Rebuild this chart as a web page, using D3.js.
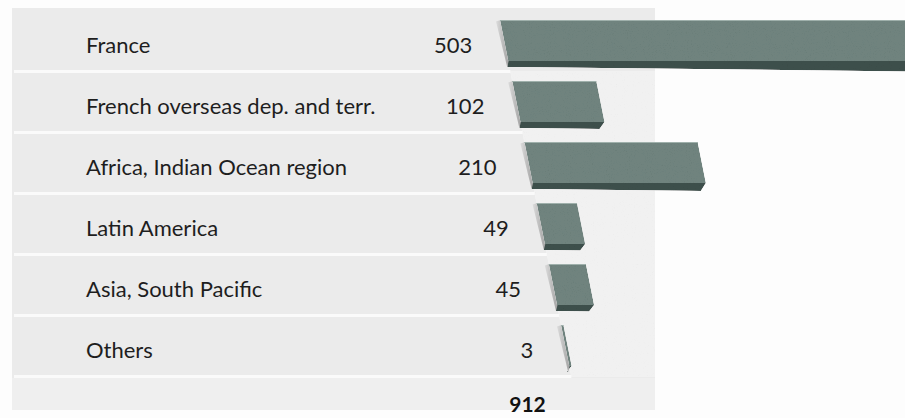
<!DOCTYPE html>
<html>
<head>
<meta charset="utf-8">
<script src="https://cdn.jsdelivr.net/npm/d3@7"></script>
<style>
  html, body { margin: 0; padding: 0; background: #fdfdfd; }
  svg { display: block; }
  text { font-family: Lato, "Open Sans", sans-serif; }
</style>
</head>
<body>
<svg id="chart" width="905" height="418"></svg>
<script>
// Regions and their counts
const categories = [
  "France",
  "French overseas dep. and terr.",
  "Africa, Indian Ocean region",
  "Latin America",
  "Asia, South Pacific",
  "Others"
];
const values = [503, 102, 210, 49, 45, 3];

const W = 905, H = 418;
const svg = d3.select("#chart");

// Row layout
const y = d3.scaleBand().domain(categories).range([10.5, 376.5]).padding(0);
const rowMid = c => y(c) + y.bandwidth() / 2;

// Bar length
const x = d3.scaleLinear().domain([0, 503]).range([0, 415]);

// Bars start on a leaning baseline (slight perspective)
const baseX = 500, baseY = 20, lean = 0.2;
const base = yy => baseX + (yy - baseY) * lean;

const panel = { x: 12, y: 8, w: 643, h: 402 };

const defs = svg.append("defs");

// Paper grain
function grain(id, freq, slope, intercept) {
  const f = defs.append("filter").attr("id", id)
    .attr("x", 0).attr("y", 0).attr("width", 1).attr("height", 1);
  f.append("feTurbulence").attr("type", "fractalNoise")
    .attr("baseFrequency", freq).attr("numOctaves", 2).attr("seed", 7).attr("result", "noise");
  f.append("feColorMatrix").attr("in", "noise").attr("type", "saturate").attr("values", 0).attr("result", "gray");
  const ct = f.append("feComponentTransfer").attr("in", "gray").attr("result", "tone");
  ["R", "G", "B"].forEach(ch => ct.append("feFunc" + ch).attr("type", "linear").attr("slope", slope).attr("intercept", intercept));
  ct.append("feFuncA").attr("type", "linear").attr("slope", 0).attr("intercept", 1);
  f.append("feBlend").attr("in", "SourceGraphic").attr("in2", "tone").attr("mode", "multiply").attr("result", "mix");
  f.append("feComposite").attr("in", "mix").attr("in2", "SourceGraphic").attr("operator", "in");
}
grain("grainLight", 0.9, 0.2, 0.92);
grain("grainBar", 0.95, 0.45, 0.8);

const sideGrad = defs.append("linearGradient").attr("id", "side")
  .attr("x1", 0).attr("y1", 0).attr("x2", 1).attr("y2", 0);
sideGrad.append("stop").attr("offset", "0%").attr("stop-color", "#dcdcdc");
sideGrad.append("stop").attr("offset", "100%").attr("stop-color", "#a2a2a2");

// Background panel
svg.append("rect")
  .attr("x", panel.x).attr("y", panel.y).attr("width", panel.w).attr("height", panel.h)
  .attr("fill", "#ebebeb");

// Lighter textured area to the right of the baseline
const firstSep = y(categories[1]);
const lastSep = y(categories[categories.length - 1]) + y.bandwidth();
svg.append("path")
  .attr("d", d3.line()([
    [base(firstSep), firstSep],
    [panel.x + panel.w, firstSep],
    [panel.x + panel.w, lastSep],
    [base(lastSep), lastSep]
  ]) + "Z")
  .attr("fill", "#f1f1f1")
  .attr("filter", "url(#grainLight)");

// Total row band, slightly lighter
svg.append("rect")
  .attr("x", panel.x).attr("y", lastSep + 1.5)
  .attr("width", panel.w).attr("height", panel.y + panel.h - lastSep - 1.5)
  .attr("fill", "#efefef");

// Row separators
const seps = categories.slice(1).map(c => y(c)).concat([lastSep]);
svg.append("g").selectAll("line").data(seps).join("line")
  .attr("x1", panel.x + 2).attr("x2", d => base(d))
  .attr("y1", d => d).attr("y2", d => d)
  .attr("stroke", "#fafafa").attr("stroke-width", 3);

// Bars
const faceH = 41;
const rows = categories.map((c, i) => {
  const yT = rowMid(c) - 21;
  const yB = yT + faceH;
  return { c, v: values[i], yT, yB, bT: base(yT), bB: base(yB), w: x(values[i]) };
});

const bars = svg.append("g");
rows.forEach(r => {
  const g = bars.append("g");
  const tL = 6, tR = 6 + r.w * 0.011;
  // front (lower) face
  g.append("path")
    .attr("d", d3.line()([
      [r.bB - 1, r.yB], [r.bB + r.w, r.yB],
      [r.bB + r.w - 5, r.yB + tR], [r.bB - 1, r.yB + tL]
    ]) + "Z")
    .attr("fill", "#3e504c").attr("filter", "url(#grainBar)");
  // left side face
  g.append("path")
    .attr("d", d3.line()([
      [r.bT - 4, r.yT + 1.5], [r.bT + 0.5, r.yT],
      [r.bB + 0.5, r.yB], [r.bB - 1, r.yB + tL]
    ]) + "Z")
    .attr("fill", "url(#side)");
  // top face
  g.append("path")
    .attr("d", d3.line()([
      [r.bT, r.yT], [r.bT + r.w, r.yT],
      [r.bB + r.w, r.yB], [r.bB, r.yB]
    ]) + "Z")
    .attr("fill", "#6f837e").attr("filter", "url(#grainBar)");
  // light top edge
  g.append("line")
    .attr("x1", r.bT).attr("x2", r.bT + r.w)
    .attr("y1", r.yT + 0.5).attr("y2", r.yT + 0.5)
    .attr("stroke", "#9fb0ab").attr("stroke-width", 1);
});

// Category labels
svg.append("g").selectAll("text").data(rows).join("text")
  .attr("x", 86).attr("y", d => rowMid(d.c) + 11.5)
  .attr("font-size", 22).attr("fill", "#1e1e1e")
  .text(d => d.c);

// Value labels
svg.append("g").selectAll("text").data(rows).join("text")
  .attr("x", d => base(rowMid(d.c)) - 32).attr("y", d => rowMid(d.c) + 11.5)
  .attr("text-anchor", "end")
  .attr("font-size", 22).attr("fill", "#1e1e1e")
  .text(d => d.v);

// Total
const totalY = 412;
svg.append("text")
  .attr("x", base(totalY - 8) - 31).attr("y", totalY)
  .attr("text-anchor", "end")
  .attr("font-size", 21).attr("font-weight", 700).attr("fill", "#111")
  .text(d3.sum(values));
</script>
</body>
</html>
